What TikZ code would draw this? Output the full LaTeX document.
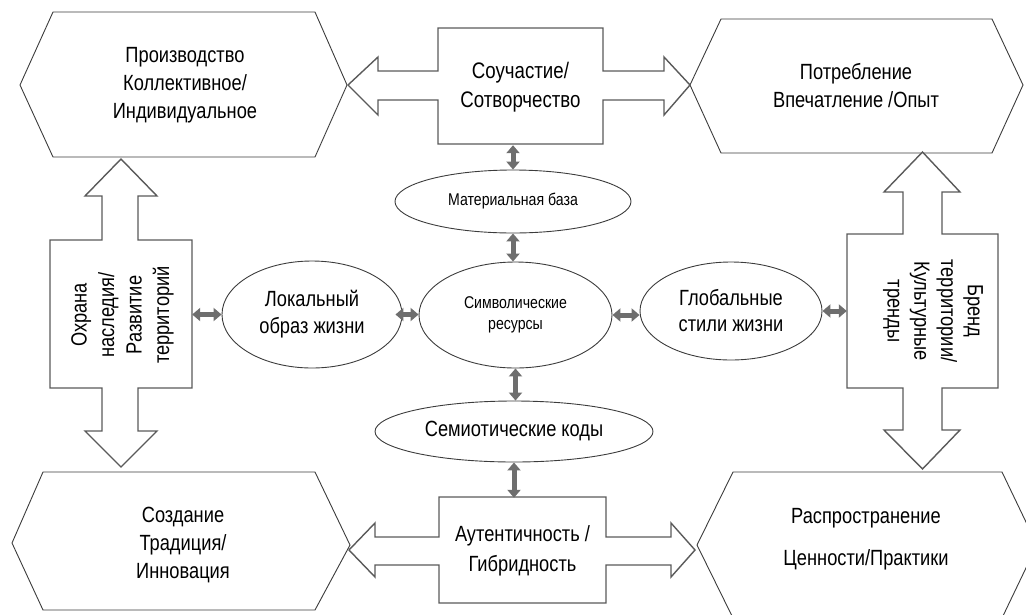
\documentclass[tikz,border=0pt]{standalone}
\usepackage{fontspec}
\setmainfont{Liberation Sans}[FakeStretch=0.83]
\usetikzlibrary{shapes.geometric,arrows.meta}
\definecolor{arrowgray}{HTML}{6E6E6E}
\definecolor{edgegray}{HTML}{5A5A5A}
\definecolor{hexgray}{HTML}{3C3C3C}
\tikzset{
  hexshape/.style={draw=hexgray,line width=0.9pt,line join=miter},
  blockarrow/.style={draw=edgegray,line width=1.4pt,line join=miter,fill=white},
  oval/.style={ellipse,draw=hexgray,line width=0.9pt,inner sep=0pt,align=center},
  bigtext/.style={align=center,font=\fontsize{22}{28}\selectfont},
  smalltext/.style={font=\fontsize{17}{21}\selectfont},
  anchorbox/.style={draw=none,inner sep=0pt},
  dbl/.style={draw=arrowgray,line width=5pt,
    {Triangle[length=8pt,width=13pt,fill=arrowgray]}-{Triangle[length=8pt,width=13pt,fill=arrowgray]}}
}
\begin{document}
\begin{tikzpicture}[x=1pt,y=-1pt]
\useasboundingbox (0,0) rectangle (1026,614);
\clip (0,0) rectangle (1026,614);

% hexagons
\draw[hexshape] (20,85) -- (53,12) -- (315,12) -- (347,85) -- (315,157) -- (53,157) -- cycle;
\draw[hexshape] (690,85) -- (721,19) -- (992,19) -- (1023,85) -- (992,153) -- (721,153) -- cycle;
\draw[hexshape] (12,543) -- (43,472) -- (315,472) -- (350,545) -- (315,610) -- (43,610) -- cycle;
\draw[hexshape] (697,545) -- (733,472) -- (1002,472) -- (1037,545) -- (1002,618) -- (733,618) -- cycle;

\node[bigtext] (prod) at (185,85) {Производство\\Коллективное/\\Индивидуальное};
\node[bigtext] (cons) at (856,86) {Потребление\\Впечатление /Опыт};
\node[bigtext] (crea) at (183,545) {Создание\\Традиция/\\Инновация};
\node[align=center,font=\fontsize{22}{42}\selectfont] (dist) at (866,539) {Распространение\\Ценности/Практики};

% block arrows
\draw[blockarrow] (348,85) -- (378,57) -- (378,71) -- (438,71) -- (438,28) -- (603,28) -- (603,71) -- (664,71) -- (664,57) -- (690,85) -- (664,115) -- (664,100) -- (603,100) -- (603,144) -- (438,144) -- (438,100) -- (378,100) -- (378,115) -- cycle;
\draw[blockarrow] (349,550) -- (375,523) -- (375,537) -- (439,537) -- (439,497) -- (606,497) -- (606,537) -- (671,537) -- (671,523) -- (695,550) -- (671,577) -- (671,565) -- (606,565) -- (606,603) -- (439,603) -- (439,565) -- (375,565) -- (375,577) -- cycle;
\draw[blockarrow] (121,159) -- (157,196) -- (138,196) -- (138,240) -- (192,240) -- (192,388) -- (138,388) -- (138,431) -- (157,431) -- (121,467) -- (85,431) -- (102,431) -- (102,388) -- (50,388) -- (50,240) -- (102,240) -- (102,196) -- (85,196) -- cycle;
\draw[blockarrow] (922.5,152) -- (960,192) -- (942,192) -- (942,234) -- (998,234) -- (998,388) -- (942,388) -- (942,430) -- (960,430) -- (922.5,469) -- (884,430) -- (903,430) -- (903,388) -- (847,388) -- (847,234) -- (903,234) -- (903,192) -- (884,192) -- cycle;

% box nodes (text + anchors)
\node[anchorbox,minimum width=165pt,minimum height=116pt,align=center,font=\fontsize{22.5}{29}\selectfont] (coop) at (520.5,87) {Соучастие/\\Сотворчество};
\node[anchorbox,minimum width=167pt,minimum height=106pt,align=center,font=\fontsize{22}{30}\selectfont] (auth) at (522.5,551) {Аутентичность /\\Гибридность};
\node[anchorbox,minimum width=142pt,minimum height=148pt] (lbox) at (121,314) {};
\node[align=center,font=\fontsize{22}{27.5}\selectfont,rotate=90] (ltxt) at (122.5,315) {Охрана\\наследия/\\Развитие\\территорий};
\node[anchorbox,minimum width=151pt,minimum height=154pt] (rbox) at (922.5,311) {};
\node[align=center,font=\fontsize{22}{26.7}\selectfont,rotate=-90] (rtxt) at (933,311) {Бренд\\территории/\\Культурные\\тренды};

% ellipses
\node[oval,minimum width=236pt,minimum height=63pt,smalltext] (mat) at (513,201.5) {Материальная база};
\node[oval,minimum width=193pt,minimum height=106pt,smalltext] (sym) at (515.5,315) {Символические\\ресурсы};
\node[oval,minimum width=180pt,minimum height=107pt,font=\fontsize{22}{27}\selectfont] (loc) at (312,314.5) {Локальный\\образ жизни};
\node[oval,minimum width=182pt,minimum height=98pt,font=\fontsize{22}{26}\selectfont] (glob) at (731,311) {Глобальные\\стили жизни};
\node[oval,minimum width=278pt,minimum height=61pt,font=\fontsize{22}{26}\selectfont] (sem) at (514,431.5) {Семиотические коды};

% small double arrows
\draw[dbl] (mat.north |- coop.south) -- (mat.north);
\draw[dbl] (mat.south) -- (mat.south |- sym.north);
\draw[dbl] (sym.south) -- (sym.south |- sem.north);
\draw[dbl] (sem.south) -- (sem.south |- auth.north);
\draw[dbl] (lbox.east |- loc.west) -- (loc.west);
\draw[dbl] ([xshift=-7pt]loc.east) -- (loc.east -| sym.west);
\draw[dbl] (sym.east) -- (sym.east -| glob.west);
\draw[dbl] (glob.east) -- (glob.east -| rbox.west);
\end{tikzpicture}
\end{document}
